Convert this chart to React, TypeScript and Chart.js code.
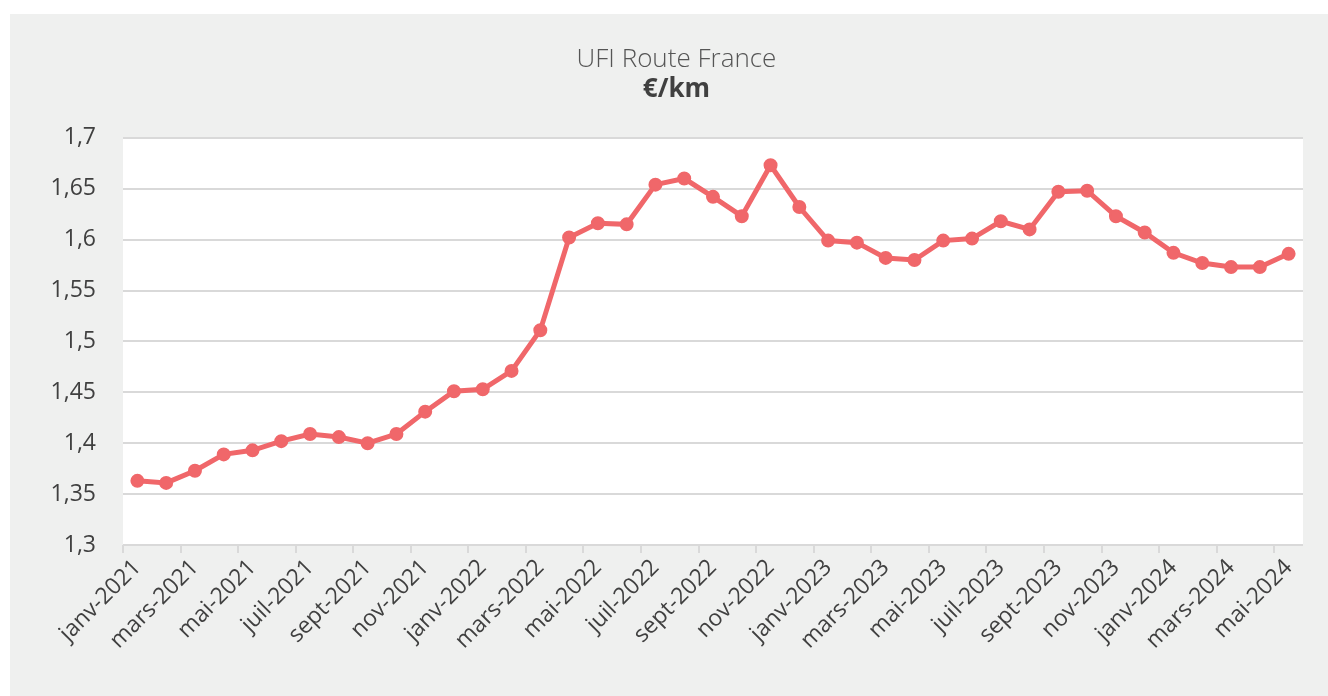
import React, { useEffect, useRef } from "react";
import { Chart, registerables } from "chart.js";

Chart.register(...registerables);

const MONTHS = ["janv", "févr", "mars", "avr", "mai", "juin", "juil", "août", "sept", "oct", "nov", "déc"];
const YEARS = [2021, 2022, 2023, 2024];

const categories: string[] = [];
for (const y of YEARS) {
  for (const m of MONTHS) {
    if (categories.length < 41) categories.push(`${m}-${y}`);
  }
}

const values = [
  1.363, 1.361, 1.373, 1.389, 1.393, 1.402, 1.409, 1.406, 1.400, 1.409,
  1.431, 1.451, 1.453, 1.471, 1.511, 1.602, 1.616, 1.615, 1.654, 1.660,
  1.642, 1.623, 1.673, 1.632, 1.599, 1.597, 1.582, 1.580, 1.599, 1.601,
  1.618, 1.610, 1.647, 1.648, 1.623, 1.607, 1.587, 1.577, 1.573, 1.573,
  1.586,
];

const TITLE = "UFI Route France";
const SUBTITLE = "€/km";

const plotBg = {
  id: "plotBg",
  beforeDraw(chart: any) {
    const { ctx, chartArea } = chart;
    if (!chartArea) return;
    ctx.save();
    ctx.fillStyle = "#ffffff";
    ctx.fillRect(chartArea.left, chartArea.top, chartArea.right - chartArea.left, chartArea.bottom - chartArea.top);
    ctx.restore();
  },
};

export default function App() {
  const ref = useRef<HTMLCanvasElement | null>(null);
  useEffect(() => {
    if (!ref.current) return;
    const chart = new Chart(ref.current, {
      type: "line",
      data: {
        labels: categories,
        datasets: [
          {
            data: values,
            borderColor: "#f0676a",
            backgroundColor: "#f0676a",
            borderWidth: 5,
            pointRadius: 6,
            pointBorderWidth: 2,
            pointBorderColor: "#f0676a",
            pointBackgroundColor: "#f0676a",
            tension: 0,
          },
        ],
      },
      options: {
        animation: false,
        responsive: false,
        maintainAspectRatio: false,
        layout: { padding: { left: 40, right: 25, top: 31, bottom: 0 } },
        plugins: {
          legend: { display: false },
          tooltip: { enabled: false },
          title: {
            display: true,
            text: TITLE,
            color: "#555555",
            font: { family: "'Open Sans'", size: 26, weight: 300 as any, lineHeight: 1.15 },
            padding: { top: 0, bottom: 0 },
          },
          subtitle: {
            display: true,
            text: SUBTITLE,
            color: "#404040",
            font: { family: "'Open Sans'", size: 26, weight: "bold", lineHeight: 1.15 },
            padding: { top: 0, bottom: 33 },
          },
        },
        scales: {
          x: {
            offset: true,
            grid: {
              offset: true,
              drawOnChartArea: false,
              drawTicks: true,
              tickLength: 8,
              lineWidth: 2,
              color: (ctx: any) => (ctx.index % 2 === 0 ? "#d9d9d9" : "rgba(0,0,0,0)"),
            },
            border: { display: false },
            ticks: {
              autoSkip: false,
              minRotation: 45,
              maxRotation: 45,
              padding: 1,
              color: "#404040",
              font: { family: "'Open Sans'", size: 23 },
              callback: (_v: any, i: number) => (i % 2 === 0 ? categories[i] : ""),
            },
            afterFit: (s: any) => {
              s.height = 151;
            },
          },
          y: {
            min: 1.3,
            max: 1.7,
            grid: { drawTicks: false, color: "#d9d9d9", lineWidth: 2 },
            border: { display: false },
            ticks: {
              stepSize: 0.05,
              padding: 27,
              color: "#404040",
              font: { family: "'Open Sans'", size: 23 },
              callback: (v: any) => Number(Number(v).toFixed(2)).toString().replace(".", ","),
            },
            afterFit: (s: any) => {
              s.width = 73;
            },
          },
        },
      },
      plugins: [plotBg],
    });
    return () => chart.destroy();
  }, []);
  return (
    <div
      style={{
        position: "fixed",
        left: 10,
        top: 14,
        width: 1318,
        height: 682,
        background: "#eff0ef",
      }}
    >
      <canvas ref={ref} width={1318} height={682} style={{ display: "block" }} />
    </div>
  );
}
